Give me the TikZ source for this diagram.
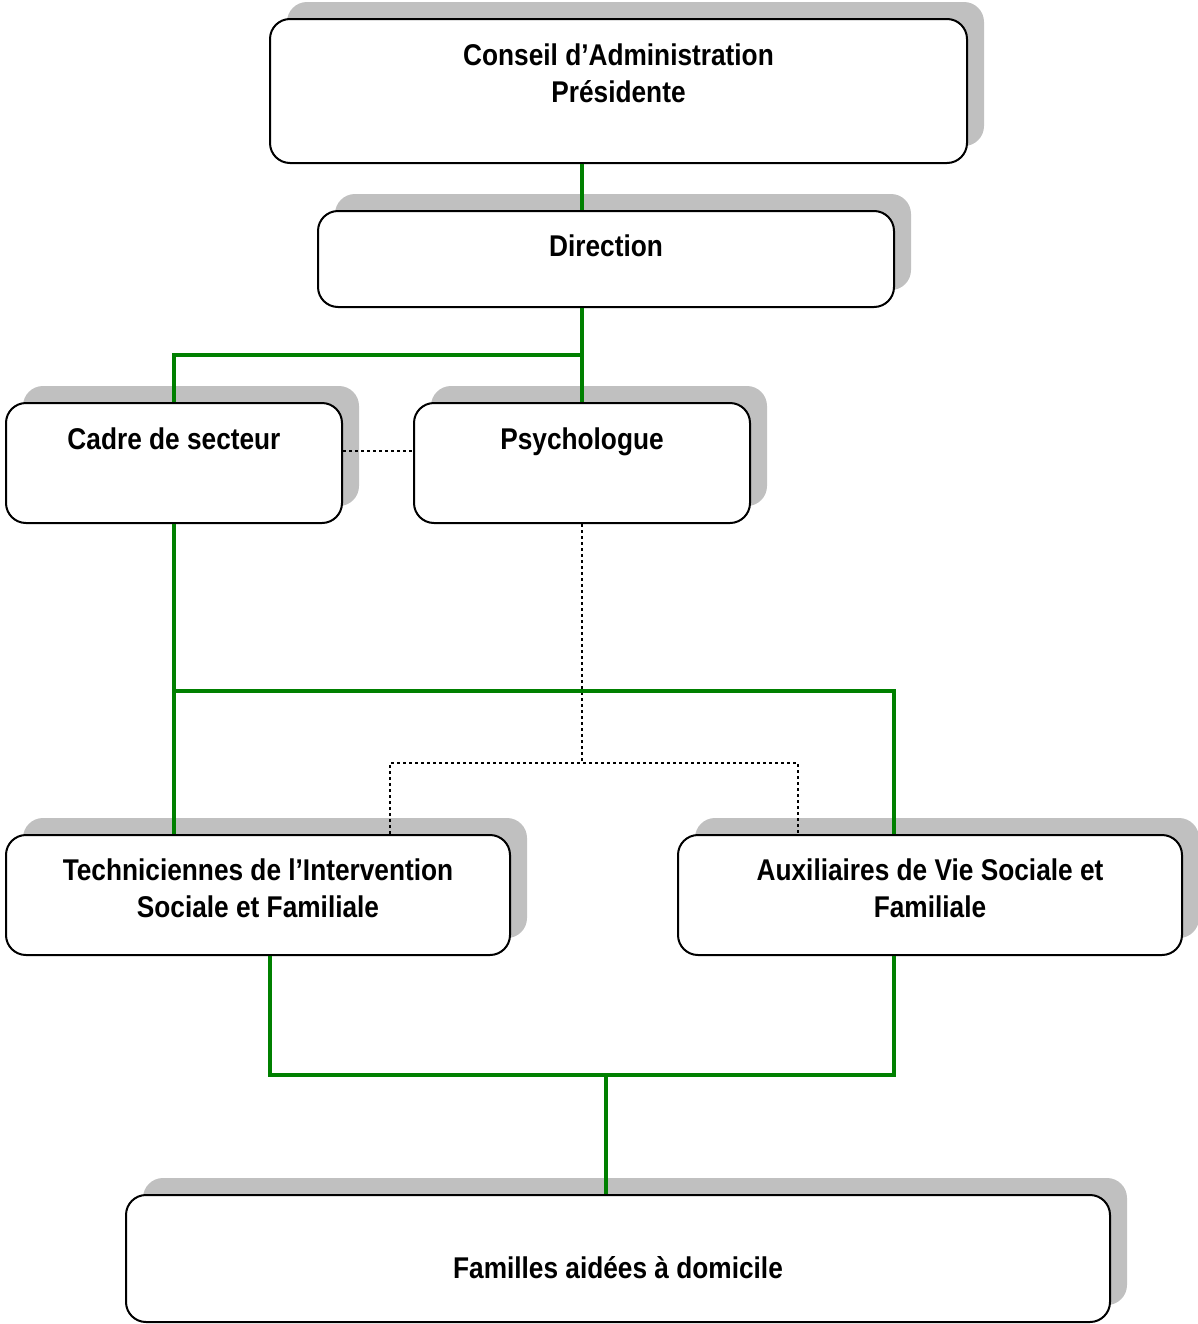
\documentclass[tikz,border=0pt]{standalone}
\usepackage{fontspec}
\setmainfont{Liberation Sans}[FakeStretch=0.875]
\usetikzlibrary{shadows}
\definecolor{shgray}{RGB}{192,192,192}
\definecolor{lgreen}{RGB}{0,128,0}
\begin{document}
\begin{tikzpicture}[x=0.75pt,y=-0.75pt,
  box/.style={draw=black, line width=1.5pt, rounded corners=15pt, fill=white, inner sep=0pt,
    general shadow={fill=shgray, draw=none, shadow xshift=12.75pt, shadow yshift=12.75pt}},
  lbl/.style={font=\bfseries\fontsize{22.5}{27.75}\selectfont, align=center, inner sep=0pt},
  link/.style={draw=lgreen, line width=3pt},
  dotlink/.style={draw=black, line width=2pt, dash pattern=on 2pt off 2.5pt}]
\useasboundingbox (0,0) rectangle (1198,1324);

% boxes
\node[box, minimum width=697*0.75pt, minimum height=144*0.75pt] (conseil) at (618.5,91) {};
\node[box, minimum width=576*0.75pt, minimum height=96*0.75pt] (dir) at (606,259) {};
\node[box, minimum width=336*0.75pt, minimum height=120*0.75pt] (cadre) at (174,463) {};
\node[box, minimum width=336*0.75pt, minimum height=120*0.75pt] (psy) at (582,463) {};
\node[box, minimum width=504*0.75pt, minimum height=120*0.75pt] (tech) at (258,895) {};
\node[box, minimum width=504*0.75pt, minimum height=120*0.75pt] (aux) at (930,895) {};
\node[box, minimum width=984*0.75pt, minimum height=127*0.75pt] (fam) at (618,1258.5) {};

% texts
\node[lbl] (tconseil) at (618.5,73.5) {Conseil d’Administration\\Présidente};
\node[lbl, anchor=base] (tdir) at (606,256) {Direction};
\node[lbl, anchor=base] (tcadre) at (174,449) {Cadre de secteur};
\node[lbl, anchor=base] (tpsy) at (582,449) {Psychologue};
\node[lbl] (ttech) at (258,888.5) {Techniciennes de l’Intervention\\Sociale et Familiale};
\node[lbl] (taux) at (930,888.5) {Auxiliaires de Vie Sociale et\\Familiale};
\node[lbl, anchor=base] (tfam) at (618,1278) {Familles aidées à domicile};

% helper coordinates
\coordinate (d1) at (0,451);
\coordinate (j4) at (582,763);
\coordinate (d2l) at (390,763);
\coordinate (d2r) at (798,763);
\coordinate (j1) at (582,355);
\coordinate (j2) at (894,691);
\coordinate (j3l) at (270,1075);
\coordinate (j3r) at (894,1075);
\coordinate (j3) at (606,1075);

% dotted connectors
\draw[dotlink] (cadre.east |- d1) -- (psy.west |- d1);
\draw[dotlink] (psy.south) -- (j4);
\draw[dotlink] (d2l |- tech.north) -- (d2l) -- (d2r) -- (d2r |- aux.north);

% green connectors
\draw[link] (conseil.south -| psy.north) -- (dir.north -| psy.north);
\draw[link] (dir.south -| psy.north) -- (psy.north);
\draw[link] (cadre.north) |- (j1);
\draw[link] (cadre.south) -- (tech.north -| cadre.south);
\draw[link] (cadre.south |- j2) -- (j2) -- (j2 |- aux.north);
\draw[link] (j3l |- tech.south) -- (j3l) -- (j3r) -- (j3r |- aux.south);
\draw[link] (j3) -- (j3 |- fam.north);
\end{tikzpicture}
\end{document}
